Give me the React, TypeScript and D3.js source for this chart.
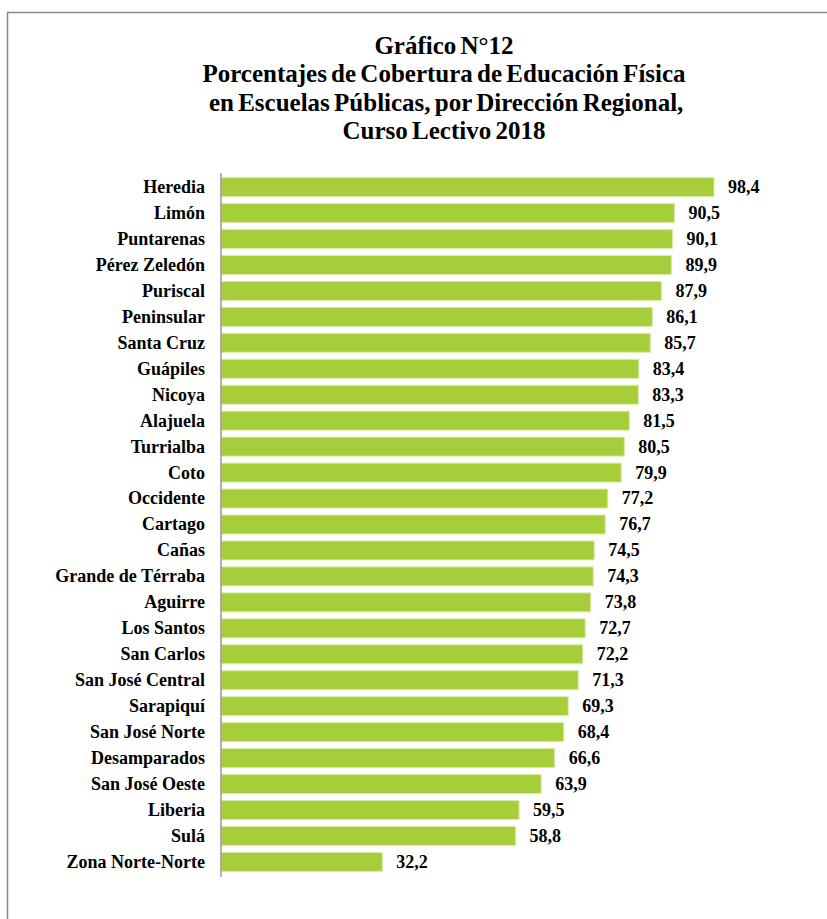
import React from "react";
import * as d3 from "d3";

const titleLines = [
  "Gráfico N°12",
  "Porcentajes de Cobertura de Educación Física",
  " en Escuelas Públicas, por Dirección Regional,",
  "Curso Lectivo 2018",
];

const regions = [
  "Heredia", "Limón", "Puntarenas", "Pérez Zeledón", "Puriscal", "Peninsular",
  "Santa Cruz", "Guápiles", "Nicoya", "Alajuela", "Turrialba", "Coto",
  "Occidente", "Cartago", "Cañas", "Grande de Térraba", "Aguirre", "Los Santos",
  "San Carlos", "San José Central", "Sarapiquí", "San José Norte", "Desamparados",
  "San José Oeste", "Liberia", "Sulá", "Zona Norte-Norte",
];

const coverage = [
  98.4, 90.5, 90.1, 89.9, 87.9, 86.1, 85.7, 83.4, 83.3, 81.5, 80.5, 79.9,
  77.2, 76.7, 74.5, 74.3, 73.8, 72.7, 72.2, 71.3, 69.3, 68.4, 66.6, 63.9,
  59.5, 58.8, 32.2,
];

const W = 827;
const H = 919;
const x0 = 221;
const font = "Liberation Serif";

export default function App() {
  const x = d3.scaleLinear().domain([0, 100]).range([x0, x0 + 501]);
  const y = d3.scaleBand<string>().domain(regions).range([174, 875]).paddingInner(0.27).paddingOuter(0.14);
  const fmt = (v: number) => v.toFixed(1).replace(".", ",");
  return (
    <svg width={W} height={H} style={{ position: "absolute", left: 0, top: 0, background: "#fff" }}>
      <rect x={7.5} y={12.5} width={W + 10} height={H + 10} fill="#fff" stroke="#888" strokeWidth={1.5} />
      <g style={{ fontFamily: font }} fontWeight="bold" fontSize={25} textAnchor="middle" fill="#000">
        {titleLines.map((t, i) => (
          <text key={i} x={444} y={53.5 + i * 28.5} style={{ whiteSpace: "pre" }} wordSpacing={-2}>{t}</text>
        ))}
      </g>
      <g>
        {regions.map((r, i) => (
          <rect
            key={r}
            x={x(0)}
            y={y(r)!}
            width={x(coverage[i]) - x(0)}
            height={y.bandwidth()}
            fill="#A6CD3A"
            stroke="#D9EBA8"
            strokeWidth={1}
          />
        ))}
      </g>
      <line x1={x0} x2={x0} y1={173} y2={877} stroke="#999" strokeWidth={1.5} />
      <g style={{ fontFamily: font }} fontWeight="bold" fontSize={18} fill="#000">
        {regions.map((r, i) => (
          <text key={r} x={205} y={y(r)! + y.bandwidth() / 2} dy="0.33em" textAnchor="end">{r}</text>
        ))}
        {regions.map((r, i) => (
          <text key={r + "v"} x={x(coverage[i]) + 14} y={y(r)! + y.bandwidth() / 2} dy="0.33em">{fmt(coverage[i])}</text>
        ))}
      </g>
    </svg>
  );
}
